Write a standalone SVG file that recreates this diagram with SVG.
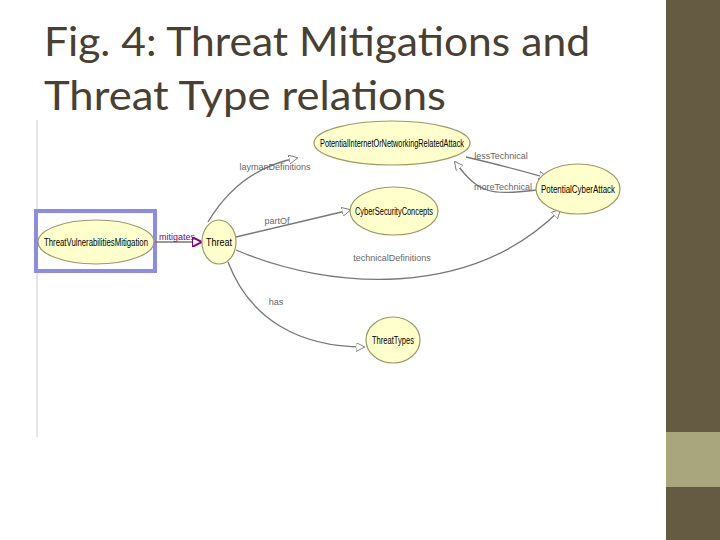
<svg xmlns="http://www.w3.org/2000/svg" width="720" height="540" viewBox="0 0 720 540">
<defs>
<style>
.n ellipse{fill:#ffffcc;stroke:#999966;stroke-width:1.2}
.n text{font-family:"Liberation Sans",Arial,sans-serif;font-size:10px;fill:#000;text-anchor:middle}
.e path{fill:none;stroke:#777;stroke-width:1.3}
.lbl{font-family:"Liberation Sans",Arial,sans-serif;font-size:9px;fill:#666;text-anchor:middle}
.t{font-family:Lato,"Open Sans",sans-serif;font-size:40px;fill:#494030}
</style>
<marker id="a" viewBox="0 0 10 10" refX="9" refY="5" markerWidth="9" markerHeight="9" orient="auto" markerUnits="userSpaceOnUse"><path d="M0,0L10,5L0,10Z" fill="#fff" stroke="#777"/></marker>
<marker id="p" viewBox="0 0 10 10" refX="9" refY="5" markerWidth="10" markerHeight="10" orient="auto" markerUnits="userSpaceOnUse"><path d="M0,0L10,5L0,10Z" fill="#fff" stroke="#800080" stroke-width="2"/></marker>
</defs>
<rect width="720" height="540" fill="#fff"/>
<rect x="666" y="0" width="54" height="540" fill="#655b43"/>
<rect x="666" y="432" width="54" height="55" fill="#a9a57c"/>
<text class="t" x="44" y="56" textLength="546" lengthAdjust="spacingAndGlyphs">Fig. 4: Threat Mitigations and</text>
<text class="t" x="44" y="110" textLength="402" lengthAdjust="spacingAndGlyphs">Threat Type relations</text>
<rect x="36" y="120" width="600" height="317" fill="#fff"/>
<line x1="37" y1="120" x2="37" y2="437" stroke="#ccc"/>
<rect x="36" y="211" width="119" height="60" fill="none" stroke="#8c8ce6" stroke-width="4"/>
<g id="edges" class="e">
<path d="M208,222 C230,185 260,165 297,158" marker-end="url(#a)"/>
<path d="M236,237 L350,210" marker-end="url(#a)"/>
<path d="M236,250 C330,290 470,300 560,210" marker-end="url(#a)"/>
<path d="M228,262 C250,320 300,347 364,347" marker-end="url(#a)"/>
<path d="M466,157 C500,165 520,170 547,178" marker-end="url(#a)"/>
<path d="M537,190 C490,195 480,195 455,162" marker-end="url(#a)"/>
<path d="M154,242 L201,242" stroke="#800080" stroke-width="2.5" marker-end="url(#p)"/>
<text class="lbl" x="275" y="170">laymanDefinitions</text>
<text class="lbl" x="277" y="224">partOf</text>
<text class="lbl" x="392" y="261">technicalDefinitions</text>
<text class="lbl" x="276" y="305">has</text>
<text class="lbl" x="501" y="159">lessTechnical</text>
<text class="lbl" x="503" y="190">moreTechnical</text>
<text class="lbl" x="177" y="240" style="fill:#800080">mitigates</text>
</g>
<g id="n1" class="n"><ellipse cx="392" cy="143" rx="78" ry="22"/><text x="392" y="147" textLength="144" lengthAdjust="spacingAndGlyphs">PotentialInternetOrNetworkingRelatedAttack</text></g>
<g id="n2" class="n"><ellipse cx="578" cy="189" rx="42" ry="25"/><text x="578" y="193" textLength="74" lengthAdjust="spacingAndGlyphs">PotentialCyberAttack</text></g>
<g id="n3" class="n"><ellipse cx="394" cy="211" rx="44" ry="24"/><text x="394" y="215" textLength="78" lengthAdjust="spacingAndGlyphs">CyberSecurityConcepts</text></g>
<g id="n4" class="n"><ellipse cx="96" cy="242" rx="58" ry="22"/><text x="96" y="246" textLength="104" lengthAdjust="spacingAndGlyphs">ThreatVulnerabilitiesMitigation</text></g>
<g id="n5" class="n"><ellipse cx="219" cy="242" rx="17" ry="22"/><text x="219" y="246" textLength="26" lengthAdjust="spacingAndGlyphs">Threat</text></g>
<g id="n6" class="n"><ellipse cx="393" cy="340" rx="27" ry="23"/><text x="393" y="344" textLength="42" lengthAdjust="spacingAndGlyphs">ThreatTypes</text></g>
</svg>
